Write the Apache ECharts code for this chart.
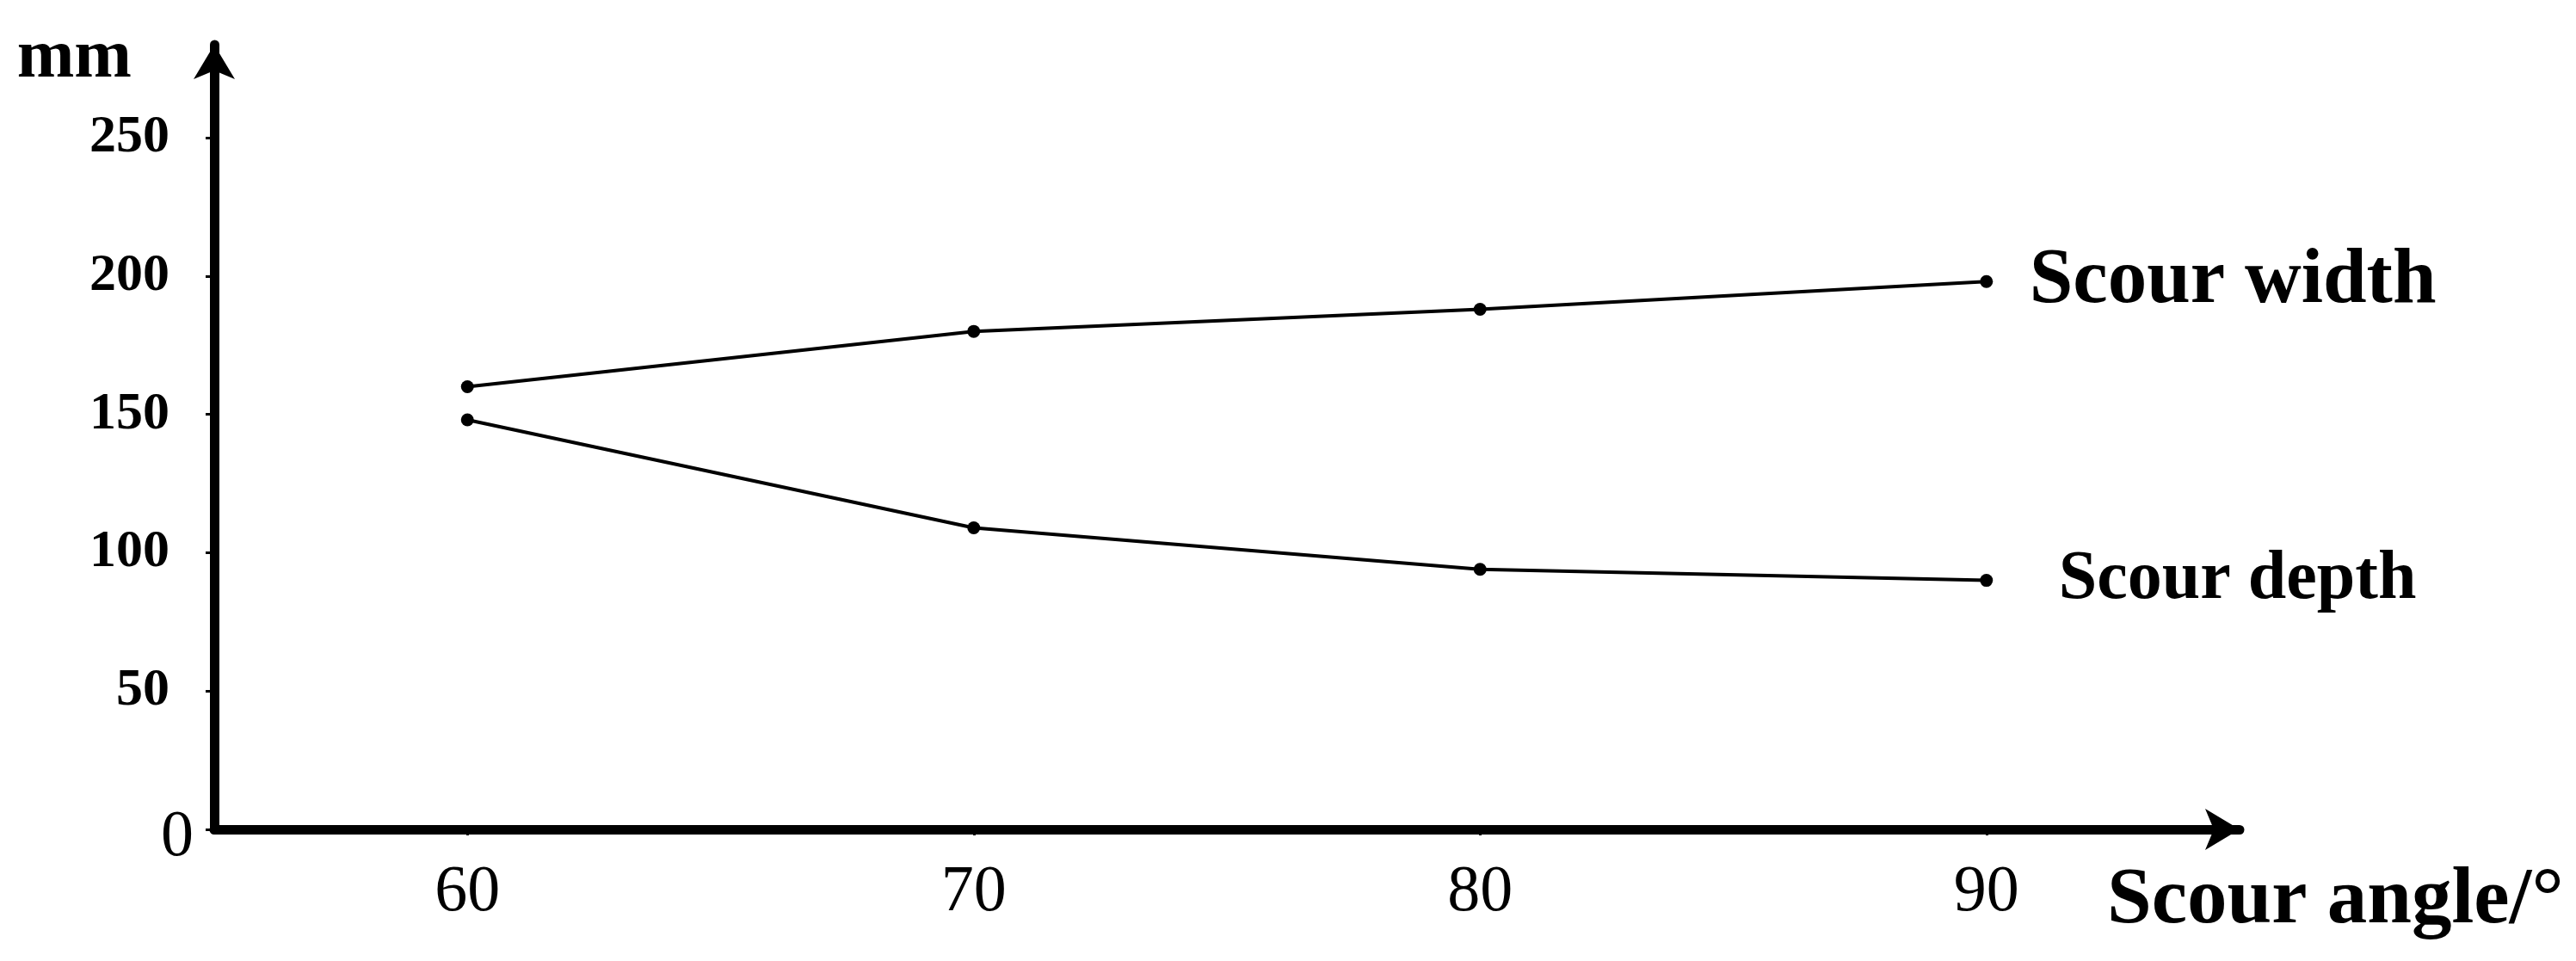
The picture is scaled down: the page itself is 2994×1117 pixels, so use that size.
<!DOCTYPE html>
<html>
<head>
<meta charset="utf-8">
<script src="https://cdn.jsdelivr.net/npm/echarts@6/dist/echarts.min.js"></script>
<style>
  html, body { margin: 0; padding: 0; background: #fff; }
  #chart { width: 2994px; height: 1117px; }
</style>
</head>
<body>
<div id="chart"></div>
<script>
const angles = [60, 70, 80, 90];
const scourWidth = [160, 180, 188, 198];
const scourDepth = [148, 109, 94, 90];
const xTicks = [60, 70, 80, 90];
const yTicks = [0, 50, 100, 150, 200, 250];

const serif = '"Times New Roman", "Liberation Serif", serif';

const chart = echarts.init(document.getElementById('chart'));

function pairs(ys) {
    return angles.map((a, i) => [a, ys[i]]);
}

function lineSeries(name, ys, gap, size) {
    return {
        name,
        type: 'line',
        data: pairs(ys),
        symbol: 'circle',
        symbolSize: 15,
        color: '#000',
        lineStyle: { color: '#000', width: 4 },
        itemStyle: { color: '#000' },
        endLabel: {
            show: true,
            formatter: '{a}',
            distance: gap,
            color: '#000',
            fontFamily: serif,
            fontWeight: 'bold',
            fontSize: size,
        },
        animation: false,
    };
}

const option = {
    animation: false,
    grid: {
        left: 249,
        right: 391,
        top: 52,
        bottom: 153,
        outerBoundsMode: 'none',
    },
    xAxis: {
        type: 'value',
        min: 55,
        max: 95,
        name: 'Scour angle/°',
        nameLocation: 'end',
        nameGap: -154,
        nameTextStyle: {
            color: '#000',
            fontFamily: serif,
            fontWeight: 'bold',
            fontSize: 93,
            lineHeight: 92,
            align: 'left',
            verticalAlign: 'top',
            padding: [38, 0, 0, 0],
        },
        axisLine: {
            lineStyle: { color: '#000', width: 11 },
            symbol: ['none', 'arrow'],
            symbolSize: [36, 40],
        },
        axisTick: {
            show: true,
            customValues: xTicks,
            length: 7,
            lineStyle: { color: '#000', width: 3 },
        },
        axisLabel: {
            customValues: xTicks,
            margin: 36,
            color: '#000',
            fontFamily: serif,
            fontSize: 76,
            lineHeight: 76,
        },
        splitLine: { show: false },
    },
    yAxis: {
        type: 'value',
        min: 0,
        max: 283.6,
        name: 'mm',
        nameLocation: 'end',
        nameGap: -16,
        nameTextStyle: {
            color: '#000',
            fontFamily: serif,
            fontWeight: 'bold',
            fontSize: 80,
            lineHeight: 80,
            align: 'right',
            verticalAlign: 'middle',
            padding: [0, 96, 0, 0],
        },
        axisLine: {
            show: true,
            lineStyle: { color: '#000', width: 11 },
            symbol: ['none', 'arrow'],
            symbolSize: [36, 40],
        },
        axisTick: {
            show: true,
            customValues: yTicks,
            length: 10,
            lineStyle: { color: '#000', width: 3 },
        },
        axisLabel: {
            customValues: yTicks,
            margin: 24,
            color: '#000',
            fontFamily: serif,
            formatter: (v) => (v === 0 ? '{n|0}' : '{b|' + v + '}'),
            rich: {
                b: { fontFamily: serif, fontWeight: 'bold', fontSize: 62, color: '#000', padding: [0, 28, 0, 0] },
                n: { fontFamily: serif, fontSize: 76, color: '#000', padding: [20, 0, 0, 0] },
            },
        },
        splitLine: { show: false },
    },
    series: [
        lineSeries('Scour width', scourWidth, 50, 91),
        lineSeries('Scour depth', scourDepth, 84, 80),
    ],
};

chart.setOption(option);
</script>
</body>
</html>
